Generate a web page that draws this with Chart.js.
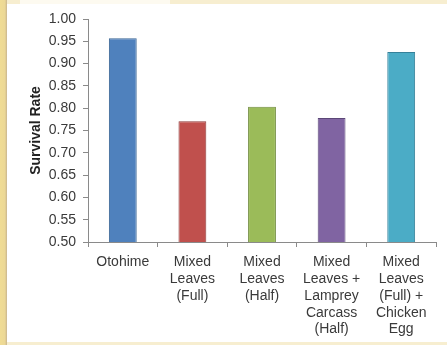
<!DOCTYPE html>
<html>
<head>
<meta charset="utf-8">
<script src="https://cdn.jsdelivr.net/npm/chart.js@4/dist/chart.umd.min.js"></script>
<style>
  html, body { margin: 0; padding: 0; background: #f6ecc8; }
  #wrap { position: relative; width: 447px; height: 345px; }
  #chart { display: block; filter: blur(0.45px); }
</style>
</head>
<body>
<div id="wrap"><canvas id="chart" width="447" height="345"></canvas></div>
<script>
// Diet treatments (multi-line category labels)
const categories = [
  ['Otohime'],
  ['Mixed', 'Leaves', '(Full)'],
  ['Mixed', 'Leaves', '(Half)'],
  ['Mixed', 'Leaves +', 'Lamprey', 'Carcass', '(Half)'],
  ['Mixed', 'Leaves', '(Full) +', 'Chicken', 'Egg']
];

// Survival rate per treatment
const survivalRate = [0.957, 0.771, 0.803, 0.778, 0.926];

// Value axis range and step
const yMin = 0.50;
const yMax = 1.00;
const yStep = 0.05;

const barFill = ['#4f81bd', '#c0504d', '#9bbb59', '#8064a2', '#4bacc6'];
const barEdge = ['#3a6595', '#8e3a38', '#6f8a3c', '#5b4777', '#35819a'];

// Paper-style backdrop behind the white chart panel
const panelBackdrop = {
  id: 'panelBackdrop',
  beforeDraw(chart) {
    const ctx = chart.ctx;
    const W = chart.width, H = chart.height;
    ctx.save();
    ctx.fillStyle = '#f7eed0';
    ctx.fillRect(0, 0, W, H);
    const g = ctx.createLinearGradient(0, 0, 7, 0);
    g.addColorStop(0, '#f0dc94');
    g.addColorStop(0.7, '#ecd896');
    g.addColorStop(1, '#c9b58e');
    ctx.fillStyle = g;
    ctx.fillRect(0, 0, 7, H);
    ctx.fillStyle = '#ffffff';
    ctx.fillRect(7, 4, W - 7, H - 7);
    ctx.fillStyle = '#fdfaf0';
    ctx.fillRect(20, 0, 150, 4);
    ctx.restore();
  }
};

new Chart(document.getElementById('chart'), {
  type: 'bar',
  data: {
    labels: categories,
    datasets: [{
      data: survivalRate,
      backgroundColor: barFill,
      borderColor: barEdge,
      borderWidth: 1,
      barPercentage: 0.4,
      categoryPercentage: 1.0
    }]
  },
  options: {
    responsive: false,
    animation: false,
    devicePixelRatio: 1,
    layout: { padding: { left: 0, right: 11, top: 19, bottom: 0 } },
    plugins: {
      legend: { display: false },
      tooltip: { enabled: false }
    },
    scales: {
      x: {
        grid: {
          offset: true,
          drawOnChartArea: false,
          drawTicks: true,
          tickLength: 5,
          color: '#8a8a8a'
        },
        border: { color: '#8a8a8a', width: 1 },
        ticks: {
          color: '#3a3a3a',
          padding: 7,
          maxRotation: 0,
          autoSkip: false,
          font: { family: 'Liberation Sans, Arial, sans-serif', size: 14, lineHeight: 1.2 }
        },
        afterFit(scale) { scale.height = 103; }
      },
      y: {
        min: yMin,
        max: yMax,
        grid: {
          drawOnChartArea: false,
          drawTicks: true,
          tickLength: 5,
          color: '#8a8a8a'
        },
        border: { color: '#8a8a8a', width: 1 },
        ticks: {
          stepSize: yStep,
          color: '#3a3a3a',
          padding: 7,
          font: { family: 'Liberation Sans, Arial, sans-serif', size: 14 },
          callback: (v) => Number(v).toFixed(2)
        },
        title: {
          display: true,
          text: 'Survival Rate',
          color: '#222222',
          padding: { top: 28, bottom: 0 },
          font: { family: 'Liberation Sans, Arial, sans-serif', size: 14, weight: 'bold', lineHeight: 1.2 }
        },
        afterFit(scale) { scale.width = 88; }
      }
    }
  },
  plugins: [panelBackdrop]
});
</script>
</body>
</html>
